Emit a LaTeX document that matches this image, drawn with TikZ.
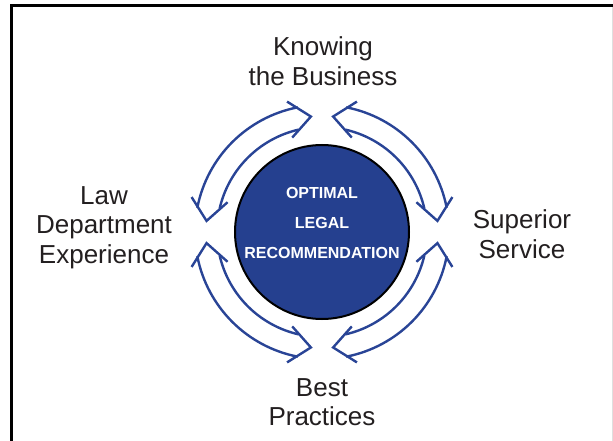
\documentclass[tikz,border=0pt]{standalone}
\usepackage{fontspec}
\setmainfont{Liberation Sans}
\usepackage{xcolor}
\usetikzlibrary{positioning,calc}

\definecolor{hubblue}{RGB}{37,64,143}
\definecolor{cycblue}{RGB}{41,68,150}
\definecolor{ink}{RGB}{35,31,32}

\begin{document}
\begin{tikzpicture}[
    x=1pt, y=1pt,
    hub/.style={circle, draw=black, line width=2pt, fill=hubblue, minimum size=174pt, inner sep=0pt},
    hubtext/.style={align=center, text=white, font=\fontsize{16}{30}\selectfont\bfseries, inner sep=0pt, anchor=base},
    topic/.style={align=center, text=ink, font=\fontsize{26}{29.5}\selectfont, inner sep=0pt, anchor=base},
    cycarrow/.style={draw=cycblue, line width=2.4pt, miter limit=10}
]
\useasboundingbox (0,0) rectangle (613,-441);

% ── Frame ──
\draw[line width=3pt] (11.5,-441) -- (11.5,-5.5) -- (613,-5.5);
\draw[gray!25, line width=0.8pt] (612,-7) -- (612,-441);

% ── Central hub ──
\node[hub] (hub) at (322,-232) {};
\node[hubtext] (rec) at (322,-258) {OPTIMAL\\LEGAL\\RECOMMENDATION};

% ── Topics around the hub (anchored on last baseline) ──
\node[topic] (know) at (323,-85.5) {Knowing\\the Business};
\node[topic] (law) at (104,-263.3) {Law\\Department\\Experience};
\node[topic] (sup) at (522,-258.3) {Superior\\Service};
\node[topic] (best) at (322,-425.7) {Best\\Practices};

% ══════════════════════════════════════════
% DOUBLE ARCS — one pair per quadrant
% ══════════════════════════════════════════

% Knowing <-> Superior (upper right)
\draw[cycarrow] ([shift={(11:127)}]hub.center) arc[start angle=11, end angle=79, radius=127];
\draw[cycarrow] ([shift={(13:105)}]hub.center) arc[start angle=13, end angle=77, radius=105];
\draw[cycarrow] ([shift={(15:135)}]hub.center) -- ([shift={(5.5:116)}]hub.center) -- ([shift={(17.5:99)}]hub.center);
\draw[cycarrow] ([shift={(75:135)}]hub.center) -- ([shift={(84.5:116)}]hub.center) -- ([shift={(72.5:99)}]hub.center);

% Knowing <-> Law (upper left)
\draw[cycarrow] ([shift={(101:127)}]hub.center) arc[start angle=101, end angle=169, radius=127];
\draw[cycarrow] ([shift={(103:105)}]hub.center) arc[start angle=103, end angle=167, radius=105];
\draw[cycarrow] ([shift={(105:135)}]hub.center) -- ([shift={(95.5:116)}]hub.center) -- ([shift={(107.5:99)}]hub.center);
\draw[cycarrow] ([shift={(165:135)}]hub.center) -- ([shift={(174.5:116)}]hub.center) -- ([shift={(162.5:99)}]hub.center);

% Law <-> Best (lower left)
\draw[cycarrow] ([shift={(191:127)}]hub.center) arc[start angle=191, end angle=259, radius=127];
\draw[cycarrow] ([shift={(193:105)}]hub.center) arc[start angle=193, end angle=257, radius=105];
\draw[cycarrow] ([shift={(195:135)}]hub.center) -- ([shift={(185.5:116)}]hub.center) -- ([shift={(197.5:99)}]hub.center);
\draw[cycarrow] ([shift={(255:135)}]hub.center) -- ([shift={(264.5:116)}]hub.center) -- ([shift={(252.5:99)}]hub.center);

% Best <-> Superior (lower right)
\draw[cycarrow] ([shift={(281:127)}]hub.center) arc[start angle=281, end angle=349, radius=127];
\draw[cycarrow] ([shift={(283:105)}]hub.center) arc[start angle=283, end angle=347, radius=105];
\draw[cycarrow] ([shift={(285:135)}]hub.center) -- ([shift={(275.5:116)}]hub.center) -- ([shift={(287.5:99)}]hub.center);
\draw[cycarrow] ([shift={(345:135)}]hub.center) -- ([shift={(354.5:116)}]hub.center) -- ([shift={(342.5:99)}]hub.center);

\end{tikzpicture}
\end{document}
